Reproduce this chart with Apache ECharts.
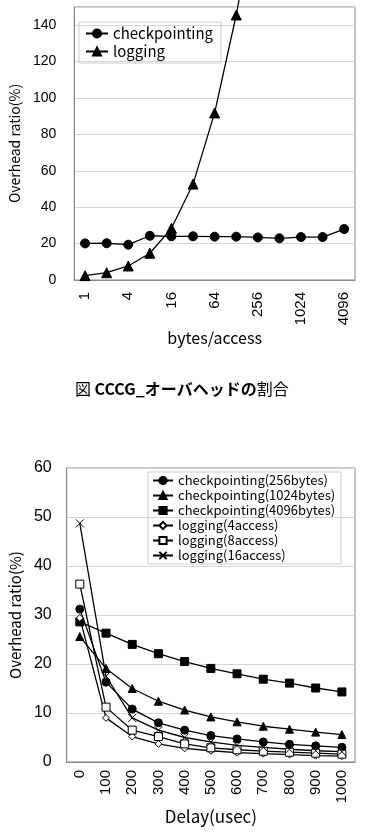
<!DOCTYPE html>
<html>
<head>
<meta charset="utf-8">
<script src="https://cdn.jsdelivr.net/npm/echarts@6/dist/echarts.min.js"></script>
<style>
  html, body { margin: 0; padding: 0; background: #fff; }
  #main { width: 369px; height: 834px; }
</style>
</head>
<body>
<div id="main"></div>
<script>
// 上のグラフ: bytes/access ごとのオーバヘッド
var bytesCats = ['1', '2', '4', '8', '16', '32', '64', '128', '256', '512', '1024', '2048', '4096'];
var ckptData = [20.1, 20.2, 19.4, 24.3, 24.0, 24.0, 23.8, 23.8, 23.4, 22.9, 23.6, 23.6, 28.0];
var logData = [2.4, 4.0, 7.7, 14.7, 28.4, 52.7, 91.8, 145.6, 210, null, null, null, null];

// 下のグラフ: Delay ごとのオーバヘッド
var delayCats = ['0', '100', '200', '300', '400', '500', '600', '700', '800', '900', '1000'];
var ckpt256 = [31.2, 16.3, 10.8, 8.0, 6.5, 5.4, 4.7, 4.1, 3.6, 3.3, 3.0];
var ckpt1024 = [25.6, 19.1, 15.0, 12.4, 10.6, 9.2, 8.2, 7.3, 6.7, 6.1, 5.6];
var ckpt4096 = [28.6, 26.3, 24.0, 22.1, 20.5, 19.1, 18.0, 16.9, 16.1, 15.1, 14.3];
var log4 = [29.4, 9.0, 5.2, 3.7, 2.8, 2.3, 1.9, 1.7, 1.5, 1.3, 1.2];
var log8 = [36.3, 11.2, 6.5, 5.2, 3.7, 2.9, 2.5, 2.2, 2.0, 1.8, 1.6];
var log16 = [48.7, 17.5, 9.0, 6.5, 5.0, 4.1, 3.4, 3.0, 2.6, 2.3, 2.1];

var FONT = 'Noto Sans CJK JP';
var NUMFONT = 'Liberation Sans';
var crossPath = 'path://M0,0L10,10M10,0L0,10';

var chart = echarts.init(document.getElementById('main'), null, { renderer: 'canvas' });

function lineSeries(name, data, x, y, symbol, size, hollow) {
  return {
    name: name,
    type: 'line',
    xAxisIndex: x,
    yAxisIndex: y,
    data: data,
    symbol: symbol,
    symbolSize: size,
    showAllSymbol: true,
    clip: true,
    animation: false,
    lineStyle: { color: '#000', width: 1.3 },
    itemStyle: hollow
      ? { color: '#fff', borderColor: '#000', borderWidth: 1 }
      : { color: '#000', borderColor: '#000', borderWidth: 1 }
  };
}

var logSeries = lineSeries('logging', logData, 0, 0, 'triangle', 10, false);
logSeries.clip = false; // 上端からはみ出す線

var option = {
  animation: false,
  textStyle: { fontFamily: FONT, color: '#000' },
  grid: [
    { left: 73, right: 14, top: 7, height: 273, show: true, borderColor: '#888', borderWidth: 1 },
    { left: 60, right: 14, top: 468, height: 294, show: true, borderColor: '#888', borderWidth: 1 }
  ],
  legend: [
    {
      left: 79, top: 22, orient: 'vertical',
      borderColor: '#ccc', borderWidth: 1, padding: [4, 8, 4, 6],
      itemWidth: 22, itemHeight: 10, itemGap: 3,
      textStyle: { fontFamily: FONT, fontSize: 15, color: '#000' },
      data: ['checkpointing', 'logging']
    },
    {
      left: 148, top: 472, orient: 'vertical',
      borderColor: '#ccc', borderWidth: 1, padding: [2, 6, 2, 4],
      itemWidth: 20, itemHeight: 9, itemGap: 2,
      textStyle: { fontFamily: FONT, fontSize: 13, color: '#000' },
      data: ['checkpointing(256bytes)', 'checkpointing(1024bytes)', 'checkpointing(4096bytes)',
             'logging(4access)', 'logging(8access)', 'logging(16access)']
    }
  ],
  xAxis: [
    {
      gridIndex: 0, type: 'category', data: bytesCats, boundaryGap: true,
      name: 'bytes/access', nameLocation: 'middle', nameGap: 50,
      nameTextStyle: { fontFamily: FONT, fontSize: 16, color: '#000' },
      axisLine: { lineStyle: { color: '#888' } },
      axisTick: { inside: true, length: 5, interval: 0, lineStyle: { color: '#888' } },
      axisLabel: { rotate: 90, interval: 1, margin: 12, fontSize: 15, color: '#000', fontFamily: NUMFONT },
      splitLine: { show: false }
    },
    {
      gridIndex: 1, type: 'category', data: delayCats, boundaryGap: true,
      name: 'Delay(usec)', nameLocation: 'middle', nameGap: 46,
      nameTextStyle: { fontFamily: FONT, fontSize: 17, color: '#000' },
      axisLine: { lineStyle: { color: '#888' } },
      axisTick: { inside: true, length: 5, interval: 0, lineStyle: { color: '#888' } },
      axisLabel: { rotate: 90, interval: 0, margin: 8, fontSize: 15, color: '#000', fontFamily: NUMFONT },
      splitLine: { show: false }
    }
  ],
  yAxis: [
    {
      gridIndex: 0, type: 'value', min: 0, max: 150, interval: 20,
      name: 'Overhead ratio(%)', nameLocation: 'middle', nameGap: 42,
      nameTextStyle: { fontFamily: FONT, fontSize: 14, color: '#000' },
      axisLine: { show: true, lineStyle: { color: '#888' } },
      axisTick: { show: false },
      axisLabel: { margin: 18, fontSize: 14, color: '#000', fontFamily: NUMFONT,
        formatter: function (v) { return v > 140 ? '' : v; } },
      splitLine: { lineStyle: { color: '#d6d6d6' } }
    },
    {
      gridIndex: 1, type: 'value', min: 0, max: 60, interval: 10,
      name: 'Overhead ratio(%)', nameLocation: 'middle', nameGap: 40,
      nameTextStyle: { fontFamily: FONT, fontSize: 15, color: '#000' },
      axisLine: { show: true, lineStyle: { color: '#888' } },
      axisTick: { show: false },
      axisLabel: { margin: 15, fontSize: 16, color: '#000', fontFamily: NUMFONT },
      splitLine: { lineStyle: { color: '#d6d6d6' } }
    }
  ],
  graphic: [
    {
      type: 'text', left: 75, top: 381,
      style: {
        text: '{n|図 }{b|CCCG_オーバヘッドの}{n|割合}',
        rich: {
          n: { fontFamily: FONT, fontSize: 16, fill: '#000' },
          b: { fontFamily: FONT, fontSize: 16, fontWeight: 'bold', fill: '#000' }
        }
      }
    }
  ],
  series: [
    lineSeries('checkpointing', ckptData, 0, 0, 'circle', 9, false),
    logSeries,
    lineSeries('checkpointing(256bytes)', ckpt256, 1, 1, 'circle', 8, false),
    lineSeries('checkpointing(1024bytes)', ckpt1024, 1, 1, 'triangle', 8, false),
    lineSeries('checkpointing(4096bytes)', ckpt4096, 1, 1, 'rect', 8, false),
    lineSeries('logging(4access)', log4, 1, 1, 'diamond', 7, true),
    lineSeries('logging(8access)', log8, 1, 1, 'rect', 8, true),
    lineSeries('logging(16access)', log16, 1, 1, crossPath, 8, true)
  ]
};

chart.setOption(option);
</script>
</body>
</html>
